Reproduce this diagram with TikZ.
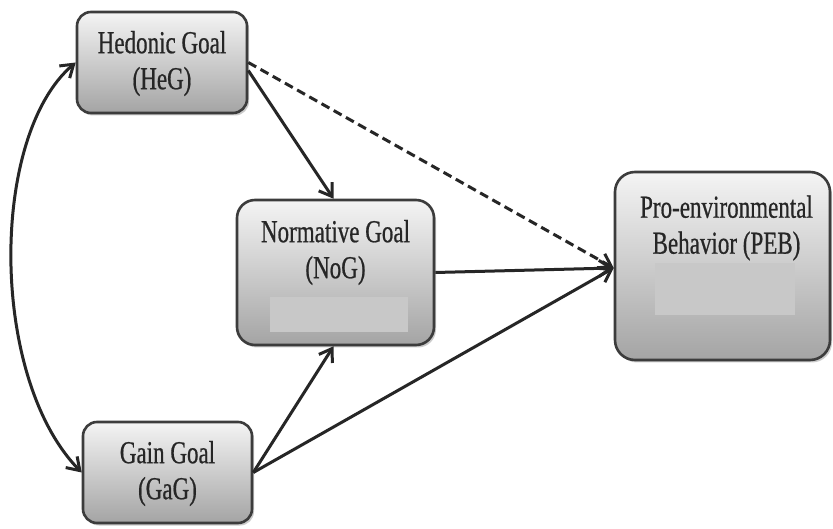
\documentclass[tikz,border=0pt]{standalone}
\usepackage{fontspec}
\setmainfont[FakeStretch=0.72,FakeBold=0.6]{Liberation Serif}
\usetikzlibrary{arrows.meta,shadows}
\definecolor{edge}{HTML}{262626}
\definecolor{boxtop}{HTML}{F4F4F4}
\definecolor{boxbottom}{HTML}{A4A4A4}
\definecolor{patch}{HTML}{C8C8C8}
\tikzset{
  goalbox/.style={draw=edge!90, line width=2.6pt, rounded corners=14pt,
    top color=boxtop, bottom color=boxbottom,
    drop shadow={shadow xshift=2pt, shadow yshift=-2.5pt, fill=black!45, opacity=.45}},
  goaltext/.style={align=center, text=black!85,
    font=\fontsize{32}{36}\selectfont},
  tip/.tip={Straight Barb[length=12pt,width=16pt,line width=3pt]},
  link/.style={draw=edge, line width=3pt, -tip},
  biglink/.style={link, tip-tip},
  weaklink/.style={link, dash pattern=on 9pt off 5pt},
  blank/.style={fill=patch, draw=none}
}
\begin{document}
\begin{tikzpicture}[x=1pt,y=1pt]
\useasboundingbox[fill=white] (0,0) rectangle (833,528);

% goal boxes
\node[goalbox, minimum width=170pt, minimum height=101pt] (heg) at (162,465.5) {};
\node[goalbox, minimum width=197pt, minimum height=145pt, rounded corners=18pt] (nog) at (335.5,255.5) {};
\node[goalbox, minimum width=169pt, minimum height=101pt] (gag) at (167.5,55.5) {};
\node[goalbox, minimum width=215pt, minimum height=188pt, rounded corners=20pt] (peb) at (722.5,262) {};

% flat patches inside the lower boxes
\node[blank, minimum width=138pt, minimum height=35pt] (nogpatch) at (339,213.5) {};
\node[blank, minimum width=140pt, minimum height=52pt] (pebpatch) at (725,239) {};

% labels
\node[goaltext] (hegtext) at ([yshift=-1pt]heg.center) {Hedonic Goal\\(HeG)};
\node[goaltext] (nogtext) at ([yshift=20pt]nog.center) {Normative Goal\\(NoG)};
\node[goaltext] (gagtext) at ([yshift=-1pt]gag.center) {Gain Goal\\(GaG)};
\node[goaltext] (pebtext) at ([yshift=38pt,xshift=4pt]peb.center) {Pro-environmental\\Behavior (PEB)};

% correlation between hedonic and gain goals
\draw[biglink] (heg.west) .. controls (-10.7,392) and (-10.7,150) .. (gag.west);

% paths
\draw[link] ([yshift=-8pt]heg.east) -- ([xshift=-2pt]nog.north);
\draw[link] (gag.east) -- ([xshift=-2pt]nog.south);
\draw[link] (nog.east) -- ([yshift=-2pt]peb.west);
\draw[link] (gag.east) -- ([yshift=-2pt]peb.west);
\draw[weaklink] (heg.east) -- ([yshift=-2pt]peb.west);
\end{tikzpicture}
\end{document}
